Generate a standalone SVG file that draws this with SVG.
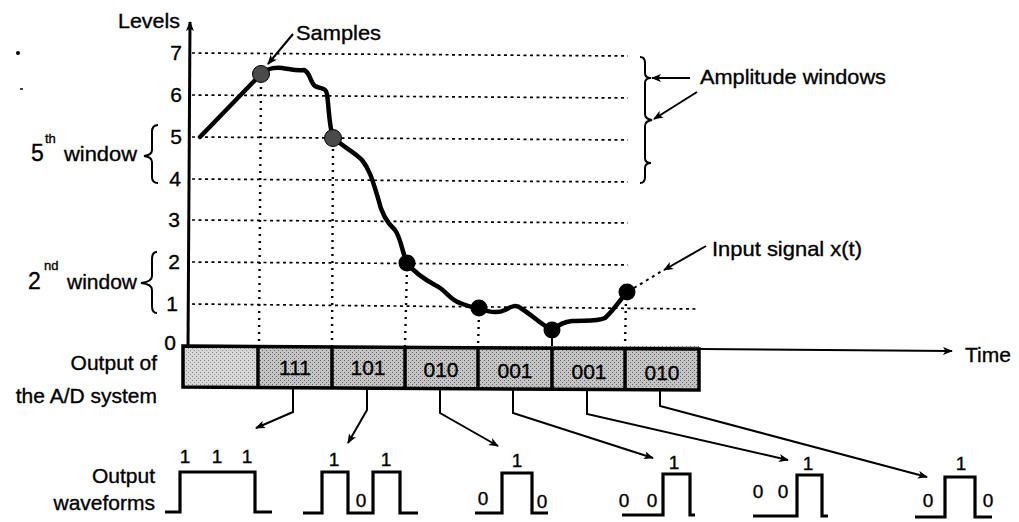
<svg xmlns="http://www.w3.org/2000/svg" width="1019" height="522" viewBox="0 0 1019 522">
<style>
text{font-family:"Liberation Sans",Arial,sans-serif;fill:#000;stroke:#000;stroke-width:0.35}
.lbl{font-size:21px}
.num{font-size:21px;text-anchor:end}
.cell{font-size:21px;text-anchor:middle}
.wl{font-size:19px;text-anchor:middle}
.grid{stroke:#000;stroke-width:1.7;stroke-dasharray:3 3.5;fill:none}
.vd{stroke:#000;stroke-width:2.4;stroke-dasharray:2 5;fill:none}
.ln{stroke:#000;stroke-width:2;fill:none}
.wf{stroke:#000;stroke-width:3.2;fill:none;stroke-linejoin:miter}
.br{stroke:#000;stroke-width:2;fill:none}
</style>
<defs>
<marker id="ah" viewBox="0 0 10 8" refX="9" refY="4" markerWidth="11" markerHeight="8" markerUnits="userSpaceOnUse" orient="auto">
<path d="M0,0 L10,4 L0,8 L2.5,4 Z" fill="#000"/>
</marker>
<pattern id="stip" width="4" height="4" patternUnits="userSpaceOnUse">
<rect width="4" height="4" fill="#c4c4c4"/>
<rect x="0" y="0" width="1" height="1" fill="#666"/>
<rect x="2" y="2" width="1" height="1" fill="#666"/>
</pattern>
<pattern id="stip2" width="4" height="4" patternUnits="userSpaceOnUse">
<rect width="4" height="4" fill="#d6d6d6"/>
<rect x="0" y="0" width="1" height="1" fill="#888"/>
<rect x="2" y="2" width="1" height="1" fill="#999"/>
</pattern>
</defs>
<rect width="1019" height="522" fill="#fff"/>

<!-- stray marks -->
<circle cx="18" cy="53" r="2" fill="#000"/>
<line x1="20" y1="89" x2="23" y2="89" stroke="#000" stroke-width="1.5"/>

<!-- axes and grid -->
<g id="axes">
<line x1="188" y1="348" x2="190" y2="22" stroke="#000" stroke-width="3" marker-end="url(#ah)"/>
<text class="lbl" x="180" y="28" text-anchor="end" textLength="62" lengthAdjust="spacingAndGlyphs">Levels</text>
<text class="num" x="182" y="60">7</text>
<text class="num" x="182" y="102">6</text>
<text class="num" x="182" y="144">5</text>
<text class="num" x="181" y="186">4</text>
<text class="num" x="180" y="227">3</text>
<text class="num" x="180" y="269">2</text>
<text class="num" x="178" y="311">1</text>
<text class="num" x="176" y="350">0</text>
<line class="grid" x1="192" y1="53" x2="628" y2="56"/>
<line class="grid" x1="192" y1="95" x2="628" y2="98"/>
<line class="grid" x1="192" y1="137" x2="628" y2="140"/>
<line class="grid" x1="192" y1="179" x2="628" y2="182"/>
<line class="grid" x1="192" y1="220" x2="628" y2="223"/>
<line class="grid" x1="192" y1="262" x2="628" y2="265"/>
<line class="grid" x1="192" y1="304" x2="697" y2="309"/>
<line class="vd" x1="261" y1="80" x2="259" y2="345"/>
<line class="vd" x1="333" y1="142" x2="332" y2="346"/>
<line class="vd" x1="407" y1="268" x2="405" y2="346"/>
<line class="vd" x1="479" y1="313" x2="478" y2="347"/>
<line class="ln" x1="552" y1="330" x2="552" y2="348"/>
<line class="vd" x1="626" y1="297" x2="625" y2="348"/>
<line x1="700" y1="349" x2="952" y2="351" stroke="#000" stroke-width="2" marker-end="url(#ah)"/>
<text class="lbl" x="965" y="362">Time</text>
</g>

<!-- signal -->
<g id="signal">
<path d="M200,137 L260,75 C266,69 272,67 282,68 C290,69 296,71 304,70 C310,72 310,82 315,86 C320,89 326,87 327,94 C329,108 329,126 333,137 C340,145 352,150 362,160 C370,170 373,182 378,198 C381,212 386,222 395,230 C401,238 402,252 407,263 C414,272 424,279 435,285 C446,290 450,300 460,303 C468,306 472,308 479,308 C488,312 497,314 505,310 C512,306 516,304 522,309 C532,315 540,324 552,330 C558,326 562,322 572,321 C584,320 596,322 605,318 C614,310 620,300 627,292" fill="none" stroke="#000" stroke-width="4.5" stroke-linejoin="round" stroke-linecap="round"/>
<circle cx="261" cy="74" r="8.5" fill="#4a4a4a" stroke="#000" stroke-width="1"/>
<circle cx="333" cy="138" r="8.5" fill="#4a4a4a" stroke="#000" stroke-width="1"/>
<circle cx="407" cy="263" r="8.5" fill="#000"/>
<circle cx="479" cy="308" r="8.5" fill="#000"/>
<circle cx="552" cy="330" r="8.5" fill="#000"/>
<circle cx="627" cy="292" r="8.5" fill="#000"/>
</g>

<!-- braces and window labels -->
<g id="windows">
<path class="br" d="M158,125 Q152,125 152,132 L152,150 Q152,155 144,156 Q152,157 152,162 L152,177 Q152,183 158,183"/>
<text class="lbl" x="31" y="161" style="font-size:23px">5</text>
<text x="45" y="143" style="font-size:13px">th</text>
<text class="lbl" x="64" y="161" textLength="73" lengthAdjust="spacingAndGlyphs">window</text>
<path class="br" d="M157,252 Q152,252 152,259 L152,276 Q152,282 141,283 Q152,284 152,290 L152,306 Q152,313 157,313"/>
<text class="lbl" x="28" y="289" style="font-size:23px">2</text>
<text x="44" y="270" style="font-size:13px">nd</text>
<text class="lbl" x="67" y="289" textLength="70" lengthAdjust="spacingAndGlyphs">window</text>
<path class="br" d="M640,57 Q645,57 645,63 L645,73 Q645,78 651,78 Q645,78 645,83 L645,114 Q645,119 652,120 Q645,121 645,126 L645,158 Q645,163 651,163 Q645,163 645,168 L645,177 Q645,183 640,183"/>
<text class="lbl" x="700" y="84" textLength="186" lengthAdjust="spacingAndGlyphs">Amplitude windows</text>
<text class="lbl" x="296" y="40" textLength="85" lengthAdjust="spacingAndGlyphs">Samples</text>
<text class="lbl" x="712" y="256" textLength="150" lengthAdjust="spacingAndGlyphs">Input signal x(t)</text>
</g>

<!-- A/D output bar -->
<g id="adbar">
<rect x="183" y="346" width="74" height="41" fill="url(#stip2)"/>
<rect x="257" y="346" width="442" height="42" fill="url(#stip)"/>
<path d="M183,346 L699,349 L699,390 L183,387 Z" fill="none" stroke="#000" stroke-width="3.5"/>
<g stroke="#000" stroke-width="3.5">
<line x1="258" y1="346" x2="258" y2="388"/>
<line x1="332" y1="347" x2="332" y2="388"/>
<line x1="405" y1="347" x2="405" y2="389"/>
<line x1="478" y1="347" x2="478" y2="389"/>
<line x1="552" y1="348" x2="552" y2="389"/>
<line x1="625" y1="348" x2="625" y2="390"/>
</g>
<text class="cell" x="295" y="375">111</text>
<text class="cell" x="368" y="375">101</text>
<text class="cell" x="441" y="377">010</text>
<text class="cell" x="515" y="378">001</text>
<text class="cell" x="589" y="379">001</text>
<text class="cell" x="662" y="380">010</text>
<text class="lbl" x="157" y="370" text-anchor="end">Output of</text>
<text class="lbl" x="157" y="403" text-anchor="end">the A/D system</text>
</g>

<!-- connectors -->
<g id="connectors">
<path class="ln" d="M293,34 L268,64" marker-end="url(#ah)"/>
<path class="ln" d="M690,78 L652,78" marker-end="url(#ah)"/>
<path class="ln" d="M697,92 L654,119" marker-end="url(#ah)"/>
<path class="ln" d="M634,288 L662,271" stroke-dasharray="3 4"/>
<path class="ln" d="M706,246 L664,270" marker-end="url(#ah)"/>
<path class="ln" d="M293,388 L293,412 L256,428" marker-end="url(#ah)"/>
<path class="ln" d="M367,388 L367,410 L348,443" marker-end="url(#ah)"/>
<path class="ln" d="M440,389 L440,413 L498,446" marker-end="url(#ah)"/>
<path class="ln" d="M513,389 L513,413 L653,458" marker-end="url(#ah)"/>
<path class="ln" d="M587,390 L587,414 L788,460" marker-end="url(#ah)"/>
<path class="ln" d="M660,390 L660,406 L927,477" marker-end="url(#ah)"/>
</g>

<!-- output waveforms -->
<g id="waveforms">
<text class="lbl" x="155" y="483" text-anchor="end">Output</text>
<text class="lbl" x="155" y="510" text-anchor="end">waveforms</text>
<g id="wf1">
<path class="wf" d="M165,512 L180,512 L180,472 L255,472 L255,512 L272,512"/>
<text class="wl" x="185" y="463">1</text><text class="wl" x="217" y="463">1</text><text class="wl" x="247" y="463">1</text>
</g>
<g id="wf2">
<path class="wf" d="M303,513 L322,513 L322,472 L348,472 L348,513 L373,513 L373,472 L400,472 L400,513 L418,513"/>
<text class="wl" x="334" y="466">1</text><text class="wl" x="361" y="507">0</text><text class="wl" x="386" y="466">1</text>
</g>
<g id="wf3">
<path class="wf" d="M475,513 L502,513 L502,473 L532,473 L532,513 L548,513"/>
<text class="wl" x="483" y="505">0</text><text class="wl" x="517" y="467">1</text><text class="wl" x="542" y="508">0</text>
</g>
<g id="wf4">
<path class="wf" d="M622,515 L663,515 L663,474 L690,474 L690,515 L695,515"/>
<text class="wl" x="624" y="507">0</text><text class="wl" x="652" y="507">0</text><text class="wl" x="674" y="469">1</text>
</g>
<g id="wf5">
<path class="wf" d="M753,516 L797,516 L797,475 L822,475 L822,516 L828,516"/>
<text class="wl" x="758" y="498">0</text><text class="wl" x="783" y="498">0</text><text class="wl" x="808" y="470">1</text>
</g>
<g id="wf6">
<path class="wf" d="M915,517 L945,517 L945,477 L975,477 L975,517 L992,517"/>
<text class="wl" x="928" y="507">0</text><text class="wl" x="961" y="470">1</text><text class="wl" x="988" y="507">0</text>
</g>
</g>
</svg>
